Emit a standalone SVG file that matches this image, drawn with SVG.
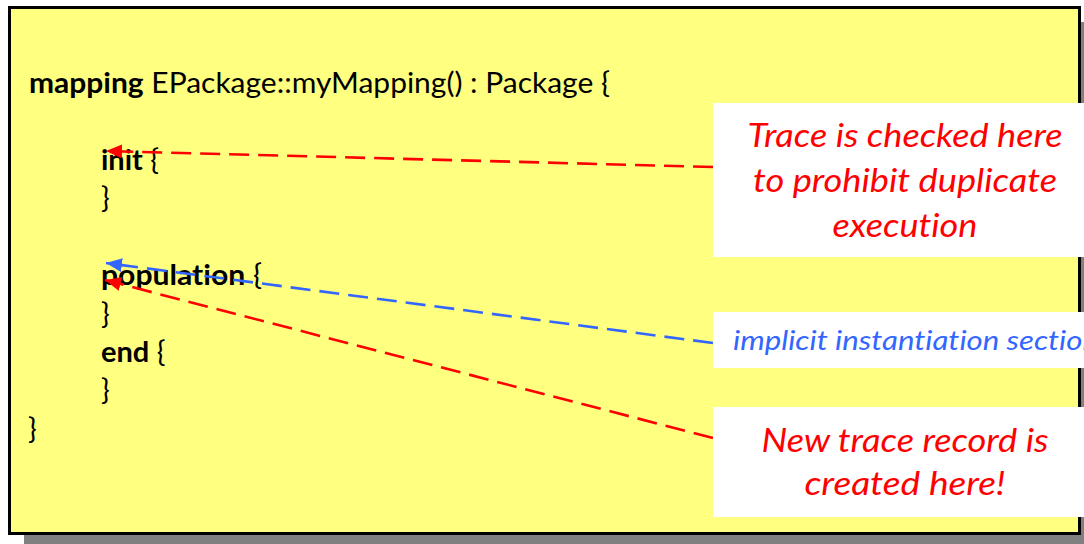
<svg xmlns="http://www.w3.org/2000/svg" width="1084" height="544" viewBox="0 0 1084 544">
  <defs>
    <style>
      text { font-variant-ligatures: none; font-feature-settings: "liga" 0, "dlig" 0; }
      .code { font-family: Lato, "Open Sans", "Liberation Sans", sans-serif; font-size: 29px; fill: #000; }
      .kw { font-weight: bold; }
      .note { font-family: Lato, "Open Sans", "Liberation Sans", sans-serif; font-style: italic; font-size: 33px; text-anchor: middle; }
      .red { fill: #FF0000; }
      .blue { fill: #3366FF; }
      .callout { fill: #FFFFFF; stroke: none; }
      .conn { fill: none; stroke-width: 2.6; stroke-dasharray: 20 9; }
    </style>
    <marker id="arrRed" markerUnits="userSpaceOnUse" markerWidth="18" markerHeight="14" refX="16" refY="7" orient="auto">
      <path d="M0,0 L16,7 L0,14 Z" fill="#FF0000"/>
    </marker>
    <marker id="arrBlue" markerUnits="userSpaceOnUse" markerWidth="18" markerHeight="14" refX="16" refY="7" orient="auto">
      <path d="M0,0 L16,7 L0,14 Z" fill="#3366FF"/>
    </marker>
  </defs>

  <g id="frame">
    <rect x="24" y="22" width="1075" height="530" fill="#808080"/>
    <rect x="9.5" y="7.5" width="1070" height="526" fill="#FFFF80" stroke="#000" stroke-width="3"/>
  </g>

  <g id="code">
    <text class="code" x="29" y="93" textLength="581" lengthAdjust="spacingAndGlyphs"><tspan class="kw">mapping</tspan> EPackage::myMapping() : Package {</text>
    <text class="code" x="101" y="170"><tspan class="kw">init</tspan> {</text>
    <text class="code" x="101" y="208">}</text>
    <text class="code" x="101" y="285" textLength="161" lengthAdjust="spacingAndGlyphs"><tspan class="kw">population</tspan> {</text>
    <text class="code" x="101" y="324">}</text>
    <text class="code" x="101" y="362"><tspan class="kw">end</tspan> {</text>
    <text class="code" x="101" y="400">}</text>
    <text class="code" x="28" y="439">}</text>
  </g>

  <g id="connectors">
    <line class="conn" x1="713" y1="167" x2="106" y2="151" stroke="#FF0000" marker-end="url(#arrRed)"/>
    <line class="conn" x1="713" y1="343" x2="106" y2="263" stroke="#3366FF" marker-end="url(#arrBlue)"/>
    <line class="conn" x1="713" y1="438" x2="105" y2="280" stroke="#FF0000" marker-end="url(#arrRed)"/>
  </g>

  <g id="note-trace-check">
    <rect class="callout" x="713" y="103" width="371" height="154"/>
    <text class="note red" x="905" y="147" textLength="315" lengthAdjust="spacingAndGlyphs">Trace is checked here</text>
    <text class="note red" x="905" y="192" textLength="304" lengthAdjust="spacingAndGlyphs">to prohibit duplicate</text>
    <text class="note red" x="905" y="237" textLength="145" lengthAdjust="spacingAndGlyphs">execution</text>
  </g>

  <g id="note-implicit">
    <rect class="callout" x="713" y="312" width="371" height="56"/>
    <text class="note blue" x="733" y="350" style="text-anchor:start;font-size:27px" textLength="366" lengthAdjust="spacingAndGlyphs">implicit instantiation section</text>
  </g>

  <g id="note-new-trace">
    <rect class="callout" x="713" y="407" width="371" height="110"/>
    <text class="note red" x="905" y="452" textLength="287" lengthAdjust="spacingAndGlyphs">New trace record is</text>
    <text class="note red" x="905" y="495" textLength="201" lengthAdjust="spacingAndGlyphs">created here!</text>
  </g>
</svg>
